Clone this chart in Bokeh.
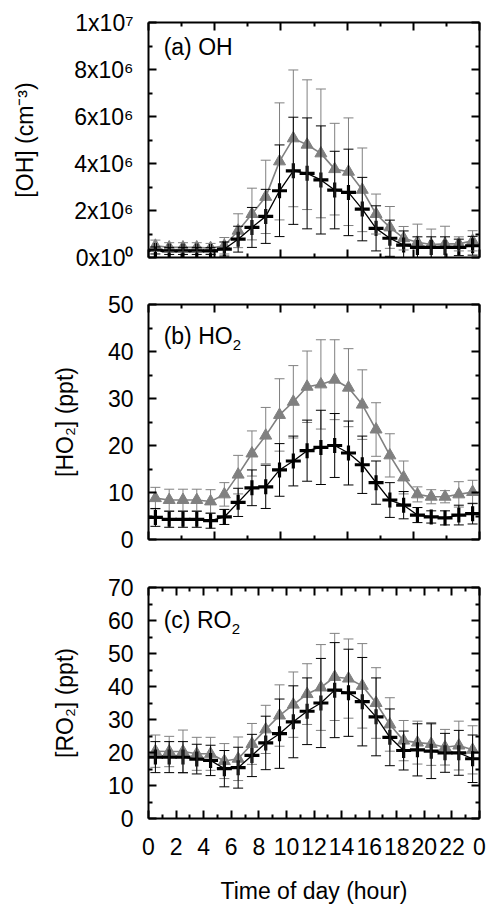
from bokeh.plotting import figure
from bokeh.models import (ColumnDataSource, Whisker, TeeHead, LinearAxis, FixedTicker,
                          Range1d, Label, CustomJSTickFormatter)
from bokeh.layouts import column
from bokeh.embed import file_html
from bokeh.resources import INLINE

# ---------------- data ----------------
hours = [0.5, 1.5, 2.5, 3.5, 4.5, 5.5, 6.5, 7.5, 8.5, 9.5, 10.5, 11.5,
         12.5, 13.5, 14.5, 15.5, 16.5, 17.5, 18.5, 19.5, 20.5, 21.5, 22.5, 23.5]

# (a) OH, cm^-3
oh_black = [3.0e5, 2.8e5, 2.8e5, 2.8e5, 2.8e5, 3.6e5, 7.8e5, 1.28e6, 1.75e6, 2.84e6, 3.69e6, 3.58e6,
            3.30e6, 2.87e6, 2.77e6, 2.06e6, 1.24e6, 8.2e5, 5.3e5, 4.3e5, 4.3e5, 4.3e5, 4.3e5, 5.0e5]
oh_black_err = [1.5e5, 1.5e5, 1.5e5, 1.5e5, 1.5e5, 3.0e5, 5.5e5, 8.5e5, 1.15e6, 1.95e6, 2.28e6, 2.36e6,
                2.30e6, 1.65e6, 1.84e6, 1.35e6, 9.6e5, 7.7e5, 6.0e5, 4.5e5, 4.5e5, 4.5e5, 3.5e5, 4.0e5]
oh_gray = [5.0e5, 4.3e5, 4.3e5, 4.3e5, 4.0e5, 5.0e5, 1.14e6, 1.85e6, 2.58e6, 4.09e6, 5.07e6, 4.80e6,
           4.43e6, 3.76e6, 3.65e6, 2.88e6, 1.85e6, 1.28e6, 8.2e5, 6.5e5, 5.5e5, 5.8e5, 5.8e5, 7.1e5]
oh_gray_err = [2.4e5, 2.0e5, 2.0e5, 2.0e5, 2.0e5, 3.5e5, 7.2e5, 1.10e6, 1.56e6, 2.49e6, 2.91e6, 2.76e6,
               2.74e6, 1.95e6, 2.29e6, 1.78e6, 8.5e5, 8.9e5, 5.0e5, 7.7e5, 6.6e5, 7.5e5, 3.0e5, 4.3e5]

# (b) HO2, ppt
ho2_black = [4.7, 4.3, 4.3, 4.3, 4.0, 4.8, 7.9, 11.0, 11.2, 14.8, 16.7, 18.9,
             19.6, 20.0, 18.4, 15.9, 12.1, 8.4, 7.3, 5.2, 4.8, 4.6, 5.2, 5.5]
ho2_black_err = [1.9, 1.7, 1.7, 1.7, 1.6, 1.6, 3.0, 3.8, 4.6, 5.6, 5.3, 6.5,
                 7.9, 6.8, 6.8, 6.1, 4.6, 3.7, 2.9, 1.6, 1.3, 1.5, 2.1, 2.2]
ho2_gray = [8.8, 8.4, 8.4, 8.4, 8.1, 9.6, 13.8, 18.3, 22.1, 26.5, 29.3, 32.5,
            33.0, 34.0, 32.3, 28.7, 23.4, 17.9, 13.2, 9.6, 9.1, 9.1, 9.6, 10.1]
ho2_gray_err = [2.3, 2.3, 2.3, 2.3, 2.5, 2.5, 4.1, 4.8, 6.0, 7.7, 7.7, 7.6,
                9.5, 8.5, 8.3, 7.4, 5.7, 4.6, 3.5, 1.6, 1.5, 1.3, 2.7, 2.5]

# (c) RO2, ppt
ro2_black = [18.6, 18.6, 18.6, 18.0, 17.6, 15.1, 15.4, 19.1, 22.9, 25.7, 29.3, 32.5,
             35.0, 38.9, 38.1, 35.4, 30.8, 24.6, 20.6, 20.8, 20.4, 19.9, 19.9, 18.1]
ro2_black_err = [4.7, 4.7, 4.7, 4.5, 4.6, 5.5, 6.2, 6.4, 8.1, 10.5, 10.9, 10.1,
                 13.5, 14.4, 13.2, 13.4, 11.8, 8.6, 5.9, 7.9, 8.3, 5.9, 6.8, 7.2]
ro2_gray = [20.4, 20.3, 20.3, 19.6, 19.6, 17.4, 18.1, 22.6, 27.0, 31.2, 34.5, 37.7,
            39.7, 42.9, 42.4, 40.2, 35.0, 28.5, 23.6, 23.0, 22.6, 21.6, 22.1, 20.8]
ro2_gray_err = [4.9, 4.6, 6.5, 5.0, 5.0, 5.3, 6.6, 6.2, 7.3, 9.3, 9.9, 9.2,
                13.0, 13.2, 12.0, 12.8, 10.7, 8.1, 6.1, 6.5, 6.5, 5.4, 7.4, 7.3]

# ticks
x_tick_vals = [0, 2, 4, 6, 8, 10, 12, 14, 16, 18, 20, 22, 24]
x_tick_labels = ["0", "2", "4", "6", "8", "10", "12", "14", "16", "18", "20", "22", "0"]
x_minor_vals = [1, 3, 5, 7, 9, 11, 13, 15, 17, 19, 21, 23]
x_top_major = [0, 4.8, 9.6, 14.4, 19.2, 24]
x_top_minor = [2.4, 7.2, 12.0, 16.8, 21.6]

oh_tick_vals = [0, 2e6, 4e6, 6e6, 8e6, 1e7]
oh_tick_labels = ["0x10\u2070", "2x10\u2076", "4x10\u2076", "6x10\u2076", "8x10\u2076", "1x10\u2077"]
oh_minor_vals = [1e6, 3e6, 5e6, 7e6, 9e6]
ho2_tick_vals = [0, 10, 20, 30, 40, 50]
ho2_minor_vals = [5, 15, 25, 35, 45]
ro2_tick_vals = [0, 10, 20, 30, 40, 50, 60, 70]
ro2_minor_vals = [5, 15, 25, 35, 45, 55, 65]

# ---------------- style ----------------
FONT = "Liberation Sans"
FS = "23px"
GRAY = "#808080"


def style_axis(ax, show_labels):
    ax.axis_line_width = 2
    ax.axis_line_color = "black"
    ax.major_tick_line_width = 2
    ax.minor_tick_line_width = 2
    ax.major_tick_line_color = "black"
    ax.minor_tick_line_color = "black"
    ax.major_tick_in = 8
    ax.major_tick_out = 0
    ax.minor_tick_in = 4
    ax.minor_tick_out = 0
    ax.major_label_text_font = FONT
    ax.major_label_text_font_size = FS
    ax.major_label_text_color = "black"
    ax.axis_label_text_font = FONT
    ax.axis_label_text_font_size = FS
    ax.axis_label_text_font_style = "normal"
    ax.axis_label_text_color = "black"
    if not show_labels:
        ax.formatter = CustomJSTickFormatter(code="return ''")
        ax.major_label_standoff = 0


def make_panel(height, top_border, bottom_border, y_max, y_major, y_minor, y_overrides, ylabel,
               y_label_standoff, x_major, x_minor, x_overrides, show_x_labels, xlabel,
               black, black_err, gray, gray_err, tag, tag_sub, tag_y, tag_width):
    p = figure(width=486, height=height, x_range=Range1d(0, 24), y_range=Range1d(0, y_max),
               output_backend="svg", toolbar_location=None,
               min_border_left=148, min_border_right=7, min_border_top=top_border,
               min_border_bottom=bottom_border, outline_line_color=None,
               background_fill_color="white", border_fill_color="white")
    p.grid.visible = False

    yax = p.yaxis[0]
    yax.ticker = FixedTicker(ticks=y_major, minor_ticks=y_minor)
    style_axis(yax, True)
    yax.major_label_standoff = 15
    if y_overrides:
        yax.major_label_overrides = y_overrides
    yax.axis_label = ylabel
    yax.axis_label_standoff = y_label_standoff

    xax = p.xaxis[0]
    xax.ticker = FixedTicker(ticks=x_major, minor_ticks=x_minor)
    style_axis(xax, show_x_labels)
    if show_x_labels:
        xax.major_label_standoff = 19
        xax.major_label_overrides = x_overrides
        xax.axis_label = xlabel
        xax.axis_label_standoff = 20

    top = LinearAxis(ticker=FixedTicker(ticks=x_major, minor_ticks=x_minor))
    style_axis(top, False)
    p.add_layout(top, "above")
    right = LinearAxis(ticker=FixedTicker(ticks=y_major, minor_ticks=y_minor))
    style_axis(right, False)
    p.add_layout(right, "right")

    gsrc = ColumnDataSource(dict(x=hours, y=gray,
                                 lo=[m - e for m, e in zip(gray, gray_err)],
                                 hi=[m + e for m, e in zip(gray, gray_err)]))
    bsrc = ColumnDataSource(dict(x=hours, y=black,
                                 lo=[m - e for m, e in zip(black, black_err)],
                                 hi=[m + e for m, e in zip(black, black_err)]))

    for src, col in ((gsrc, GRAY), (bsrc, "black")):
        w = Whisker(base="x", lower="lo", upper="hi", source=src,
                    line_color=col, line_width=1,
                    upper_head=TeeHead(size=10, line_color=col, line_width=1),
                    lower_head=TeeHead(size=10, line_color=col, line_width=1))
        w.level = "glyph"
        p.add_layout(w)

    p.line("x", "y", source=gsrc, line_color=GRAY, line_width=1.6)
    p.scatter("x", "y", source=gsrc, marker="triangle", size=12,
              fill_color=GRAY, line_color=GRAY)
    p.line("x", "y", source=bsrc, line_color="black", line_width=1.3)
    p.scatter("x", "y", source=bsrc, marker="cross", size=15,
              line_color="black", line_width=3.2)

    p.add_layout(Label(x=1.1, y=tag_y, text=tag, text_baseline="middle",
                       text_font=FONT, text_font_size=FS, text_color="black"))
    if tag_sub:
        p.add_layout(Label(x=1.1, y=tag_y, x_offset=tag_width, y_offset=-9, text=tag_sub,
                           text_baseline="middle", text_font=FONT,
                           text_font_size="15px", text_color="black"))
    return p


pa = make_panel(290, 22, 33, 1e7, oh_tick_vals, oh_minor_vals,
                dict(zip([float(v) for v in oh_tick_vals], oh_tick_labels)),
                "[OH] (cm\u207b\u00b3)", 33, x_top_major, x_top_minor, None, False, None,
                oh_black, oh_black_err, oh_gray, oh_gray_err, "(a) OH", None, 8.95e6, 0)
pb = make_panel(283, 14, 34, 50, ho2_tick_vals, ho2_minor_vals, None,
                "[HO\u2082] (ppt)", 27, x_top_major, x_top_minor, None, False, None,
                ho2_black, ho2_black_err, ho2_gray, ho2_gray_err, "(b) HO", "2", 43.4, 69)
pc = make_panel(333, 14, 84, 70, ro2_tick_vals, ro2_minor_vals, None,
                "[RO\u2082] (ppt)", 27, x_tick_vals, x_minor_vals,
                dict(zip([float(v) for v in x_tick_vals], x_tick_labels)), True,
                "Time of day (hour)",
                ro2_black, ro2_black_err, ro2_gray, ro2_gray_err, "(c) RO", "2", 60.3, 68)

layout = column(pa, pb, pc, spacing=0)
open("out.html", "w").write(file_html(layout, INLINE))
